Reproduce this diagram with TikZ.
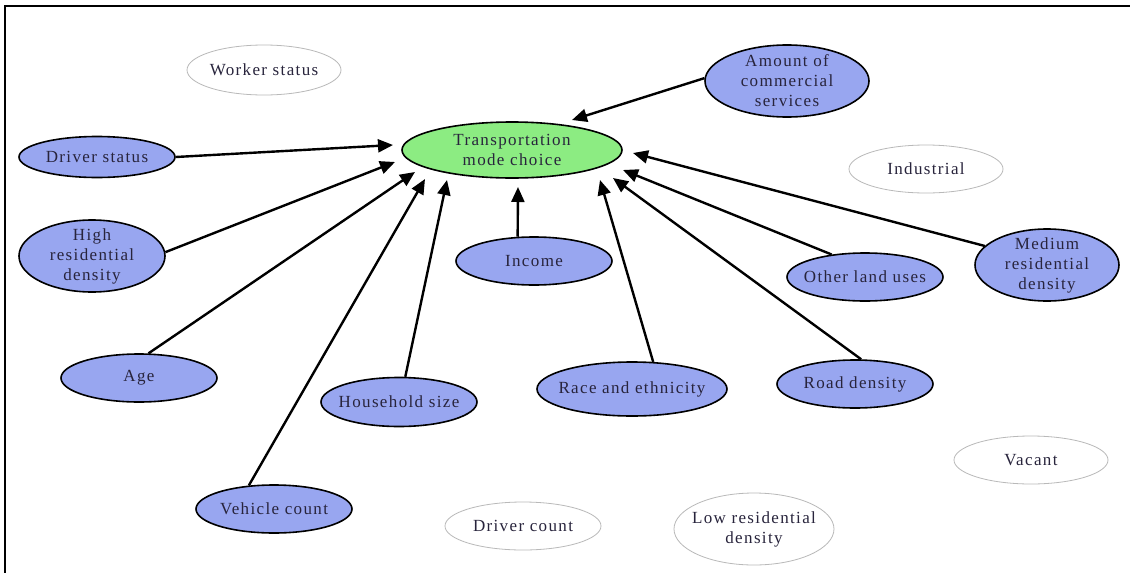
\documentclass[tikz,border=0pt]{standalone}
\usepackage{fontspec}
\setmainfont{Liberation Serif}[LetterSpace=8]
\usetikzlibrary{shapes.geometric,arrows.meta,calc}
\definecolor{actfill}{RGB}{152,166,240}
\definecolor{modefill}{RGB}{140,236,130}
\definecolor{txtcol}{RGB}{40,36,60}
\definecolor{idle}{RGB}{185,185,185}
\tikzset{
  factor/.style={ellipse, draw=black, line width=1.6pt, fill=actfill, inner sep=0pt},
  outcome/.style={ellipse, draw=black, line width=1.6pt, fill=modefill, inner sep=0pt},
  unused/.style={ellipse, draw=idle, line width=0.8pt, fill=white, inner sep=0pt},
  caption/.style={align=center, inner sep=0pt, text=txtcol,
    font=\fontsize{17}{20}\selectfont},
  influence/.style={line width=2.4pt, -{Triangle[length=15pt,width=13pt]}},
}
\begin{document}
\begin{tikzpicture}[x=1pt, y=-1pt]
\useasboundingbox (0,0) rectangle (1130,573);
\fill[white] (0,0) rectangle (1130,573);
% frame (only the top and left edges fall inside the page)
\draw[line width=2pt] (5,575) -- (5,6) -- (1132,6);

% ellipses
\node[outcome, minimum width=220, minimum height=56] (mode) at (512,150) {};
\node[factor,  minimum width=164, minimum height=72] (amt)  at (787,81)  {};
\node[unused,  minimum width=154, minimum height=50] (wrk)  at (264,70)  {};
\node[factor,  minimum width=156, minimum height=41] (drv)  at (97,157)  {};
\node[factor,  minimum width=146, minimum height=72] (hrd)  at (92,256)  {};
\node[unused,  minimum width=154, minimum height=48] (ind)  at (926,169) {};
\node[factor,  minimum width=144, minimum height=72] (med)  at (1047,265) {};
\node[factor,  minimum width=156, minimum height=48] (oth)  at (865,277) {};
\node[factor,  minimum width=156, minimum height=48] (inc)  at (534,261) {};
\node[factor,  minimum width=156, minimum height=48] (age)  at (139,378) {};
\node[factor,  minimum width=156, minimum height=49] (hh)   at (399,402) {};
\node[factor,  minimum width=190, minimum height=54] (race) at (632,389) {};
\node[factor,  minimum width=156, minimum height=48] (road) at (855,384) {};
\node[factor,  minimum width=156, minimum height=48] (veh)  at (274,509) {};
\node[unused,  minimum width=154, minimum height=48] (vac)  at (1031,460) {};
\node[unused,  minimum width=156, minimum height=48] (dcnt) at (523,526) {};
\node[unused,  minimum width=160, minimum height=72] (low)  at (754,529) {};

% labels
\node[caption] (mode-t) at (mode) {Transportation\\mode choice};
\node[caption] (amt-t)  at (amt)  {Amount of\\commercial\\services};
\node[caption] (wrk-t)  at (wrk)  {Worker status};
\node[caption] (drv-t)  at (drv)  {Driver status};
\node[caption] (hrd-t)  at (hrd)  {High\\residential\\density};
\node[caption] (ind-t)  at (ind)  {Industrial};
\node[caption] (med-t)  at (med)  {Medium\\residential\\density};
\node[caption] (oth-t)  at (oth)  {Other land uses};
\node[caption] (inc-t)  at (inc)  {Income};
\node[caption] (age-t)  at (age)  {Age};
\node[caption] (hh-t)   at (hh)   {Household size};
\node[caption] (race-t) at (race) {Race and ethnicity};
\node[caption] (road-t) at (road) {Road density};
\node[caption] (veh-t)  at (veh)  {Vehicle count};
\node[caption] (vac-t)  at (vac)  {Vacant};
\node[caption] (dcnt-t) at (dcnt) {Driver count};
\node[caption] (low-t)  at (low)  {Low residential\\density};

% influences on the mode choice
\draw[influence] (amt.178)  -- ($(mode.center)+(60,-30)$);
\draw[influence] (drv.east) -- ($(mode.center)+(-119,-5)$);
\draw[influence] (hrd.3)    -- ($(mode.center)+(-117,12)$);
\draw[influence] (age.69)   -- ($(mode.center)+(-97,22)$);
\draw[influence] (veh.137)  -- ($(mode.center)+(-87,29)$);
\draw[influence] (hh.76)    -- ($(mode.center)+(-65,30)$);
\draw[influence] (inc.124)  -- ($(mode.center)+(6,37)$);
\draw[influence] (race.52)  -- ($(mode.center)+(88,30)$);
\draw[influence] (road.76)  -- ($(mode.center)+(101,28)$);
\draw[influence] (oth.146)  -- ($(mode.center)+(111,20)$);
\draw[influence] (med.163)  -- ($(mode.center)+(121,3)$);
\end{tikzpicture}
\end{document}
